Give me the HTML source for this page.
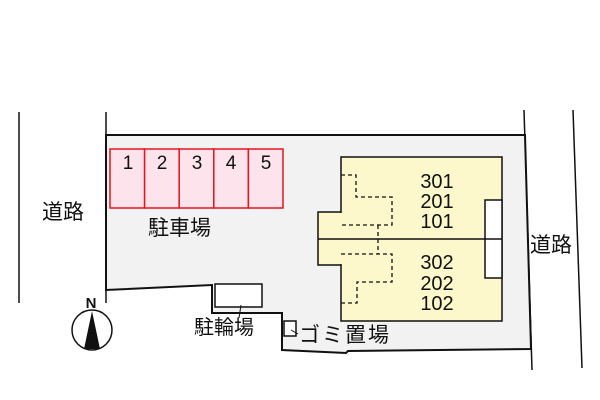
<!DOCTYPE html>
<html><head><meta charset="utf-8"><style>
body{margin:0;background:#fff}
svg{display:block}
text{font-family:"Liberation Sans","Noto Sans CJK JP",sans-serif;fill:#111}
</style></head><body>
<svg width="600" height="400" viewBox="0 0 600 400" xmlns="http://www.w3.org/2000/svg">
<line x1="19" y1="112" x2="19" y2="303" stroke="#111" stroke-width="1.5"/>
<line x1="106" y1="112" x2="106" y2="303" stroke="#111" stroke-width="1.5"/>
<line x1="524" y1="110" x2="532" y2="370" stroke="#111" stroke-width="1.5"/>
<line x1="573" y1="110" x2="582" y2="368" stroke="#111" stroke-width="1.5"/>
<polygon points="106,135 525,135 531,349 348,351 346,353 282,350 282,313 212,313 212,285 106,290" fill="#f2f2f2" stroke="#111" stroke-width="2"/>
<rect x="215" y="284" width="47" height="23" fill="#fff" stroke="#111" stroke-width="1.5"/>
<line x1="241" y1="305" x2="239" y2="318" stroke="#111" stroke-width="1"/>
<rect x="284" y="321" width="12" height="15" fill="#fff" stroke="#111" stroke-width="1.5"/>
<line x1="291" y1="330" x2="298" y2="334" stroke="#111" stroke-width="1"/>
<g fill="#fde4ec" stroke="#e8141e" stroke-width="1.5">
<rect x="110" y="149" width="34.6" height="59"/><rect x="144.6" y="149" width="34.6" height="59"/><rect x="179.2" y="149" width="34.6" height="59"/><rect x="213.8" y="149" width="34.6" height="59"/><rect x="248.4" y="149" width="34.6" height="59"/>
</g>
<g font-size="19" text-anchor="middle"><text x="128" y="169">1</text><text x="162" y="169">2</text><text x="197" y="169">3</text><text x="231" y="169">4</text><text x="266" y="169">5</text></g>
<rect x="318" y="212" width="30" height="53" fill="#fdf8cb" stroke="#111" stroke-width="1.5"/>
<rect x="341" y="157" width="161" height="164" fill="#fdf8cb" stroke="#111" stroke-width="1.5"/>
<rect x="319" y="213" width="24" height="51" fill="#fdf8cb"/>
<line x1="318" y1="239" x2="502" y2="239" stroke="#111" stroke-width="1.5"/>
<rect x="485" y="200" width="17" height="78" fill="#fff" stroke="#111" stroke-width="1.5"/>
<line x1="485" y1="239" x2="502" y2="239" stroke="#111" stroke-width="1.5"/>
<g fill="none" stroke="#111" stroke-width="1.3" stroke-dasharray="4,3">
<polyline points="341,175 356,175 356,197 392,197 392,225 341,225"/>
<line x1="378" y1="225" x2="378" y2="254"/>
<polyline points="341,254 392,254 392,282 357,282 357,303 341,303"/>
</g>
<g font-size="20" text-anchor="middle">
<text x="437" y="188">301</text><text x="437" y="208">201</text><text x="437" y="228">101</text>
<text x="437" y="269">302</text><text x="437" y="290">202</text><text x="437" y="310">102</text>
</g>
<text x="42" y="219" font-size="21">道路</text>
<text x="530" y="252" font-size="21">道路</text>
<text x="148" y="235" font-size="21">駐車場</text>
<text x="194" y="334" font-size="20">駐輪場</text>
<text x="299" y="342" font-size="21" letter-spacing="2">ゴミ置場</text>
<text x="91" y="308" font-size="15" text-anchor="middle" font-weight="bold">N</text>
<circle cx="92" cy="330" r="20" fill="#fff" stroke="#111" stroke-width="1.5"/>
<polygon points="92,311 84,349 100,349" fill="#111"/>
</svg>
</body></html>
